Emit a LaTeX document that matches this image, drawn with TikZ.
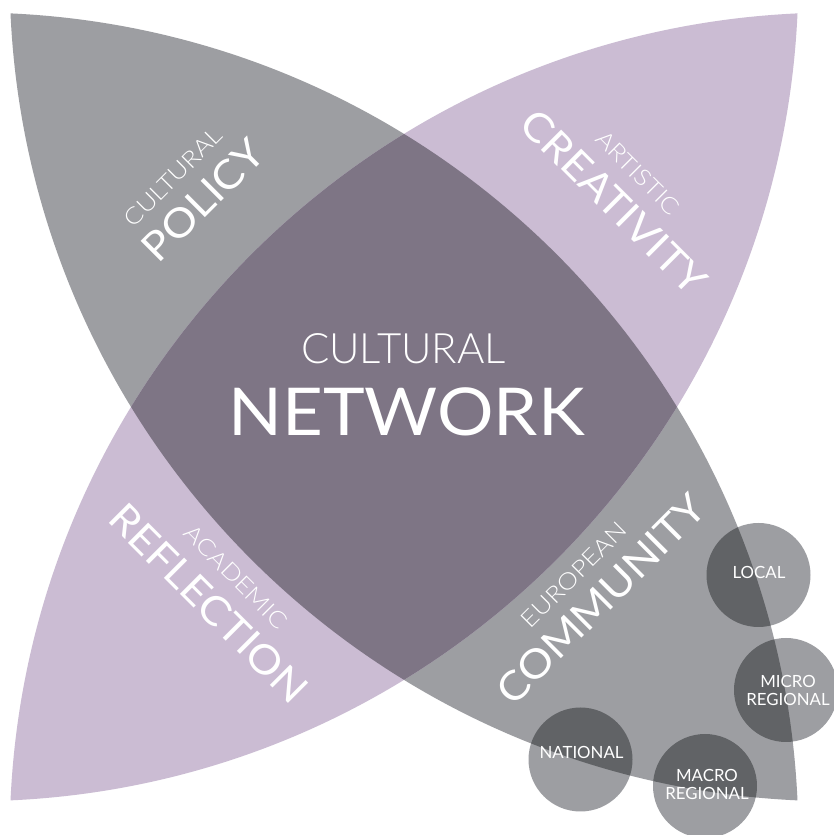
\documentclass[tikz,border=0pt]{standalone}
\usepackage{fontspec}
\setmainfont{Lato}
\newfontfamily\lightfont{Lato Light}
\definecolor{lensgrey}{HTML}{9D9EA2}
\definecolor{lenspurple}{HTML}{CBBCD3}
\definecolor{overlapcol}{HTML}{7E7585}
\definecolor{circdark}{HTML}{616366}
\begin{document}
\begin{tikzpicture}[x=1pt,y=1pt,
  txt/.style={text=white, inner sep=0pt, outer sep=0pt},
  biglbl/.style={txt, font=\fontsize{40}{42}\selectfont},
  smalllbl/.style={txt, font=\lightfont\fontsize{23}{25}\selectfont},
  circlbl/.style={txt, align=center, font=\fontsize{16.8}{18}\selectfont},
  circ/.style={circle, fill=lensgrey, minimum size=104, inner sep=0pt}]
\useasboundingbox (0,0) rectangle (834,835);
\fill[white] (0,0) rectangle (834,835);
\def\greylens{(10.5,821.6) arc[start angle=87.4, end angle=2.6, radius=825.3] arc[start angle=267.4, end angle=182.6, radius=825.3] -- cycle}
\def\purplelens{(797.5,821.6) arc[start angle=92.6, end angle=177.4, radius=825.3] arc[start angle=272.6, end angle=357.4, radius=825.3] -- cycle}
% lenses
\fill[lensgrey] \greylens;
\fill[lenspurple] \purplelens;
\begin{scope}
  \clip \greylens;
  \fill[overlapcol] \purplelens;
\end{scope}
% circles
\node[circ] (local) at (758.5,260) {};
\node[circ] (micro) at (786,145) {};
\node[circ] (national) at (580.5,75.5) {};
\node[circ] (macro) at (705,49) {};
\begin{scope}
  \clip \greylens;
  \fill[circdark] (local) circle[radius=52];
  \fill[circdark] (micro) circle[radius=52];
  \fill[circdark] (national) circle[radius=52];
  \fill[circdark] (macro) circle[radius=52];
\end{scope}
% centre text
\node[txt, font=\lightfont\fontsize{41.9}{44}\selectfont] (cultural) at (403.5,486.7) {CULTURAL};
\node[txt, xscale=1.07, font=\fontsize{66}{68}\selectfont] (network) at (406.5,423.5) {NETWORK};
% petal labels
\node[biglbl, rotate=45, xscale=1.1] (policy) at (203,635) {POLICY};
\node[smalllbl, rotate=45, xscale=1.14] (culturalpol) at (173,658) {CULTURAL};
\node[biglbl, rotate=-45, xscale=1.1] (creativity) at (614,633) {CREATIVITY};
\node[smalllbl, rotate=-45, xscale=1.14] (artistic) at (638,662) {ARTISTIC};
\node[biglbl, rotate=-45, xscale=1.1] (reflection) at (209,232) {REFLECTION};
\node[smalllbl, rotate=-45, xscale=1.14] (academic) at (236,258) {ACADEMIC};
\node[biglbl, rotate=45, xscale=1.1] (community) at (601,236) {COMMUNITY};
\node[smalllbl, rotate=45, xscale=1.14] (european) at (574,260) {EUROPEAN};
% circle labels
\node[circlbl] (tlocal) at (759,262.5) {LOCAL};
\node[circlbl] (tmicro) at (788,145) {MICRO\\REGIONAL};
\node[circlbl] (tnational) at (581.5,82.5) {NATIONAL};
\node[circlbl] (tmacro) at (707,50.5) {MACRO\\REGIONAL};
\end{tikzpicture}
\end{document}
